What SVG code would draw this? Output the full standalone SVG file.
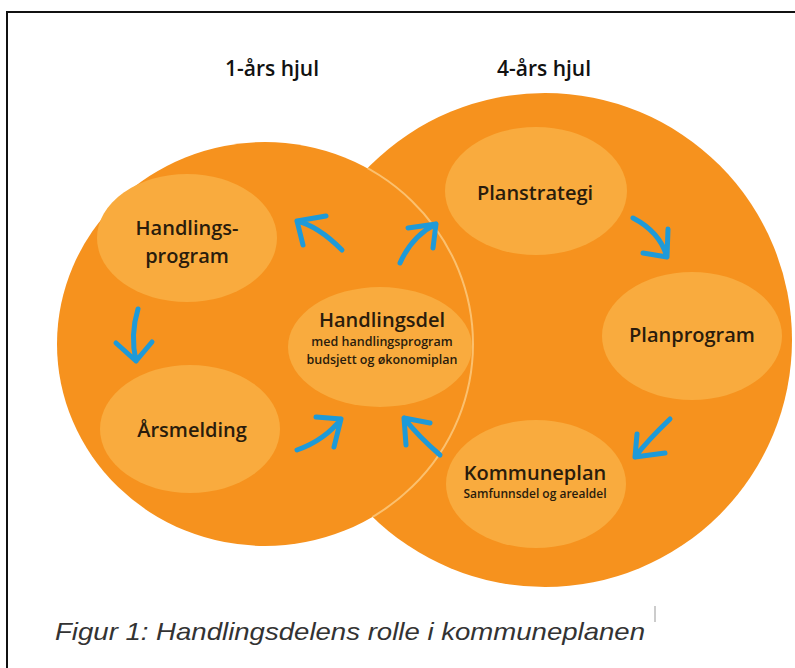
<svg xmlns="http://www.w3.org/2000/svg" width="795" height="668" viewBox="0 0 795 668">
<defs>
<style>
.bg{fill:#f6921e}
.el{fill:#f9ab3e}
.t{font-family:"Open Sans","Noto Sans",sans-serif;font-weight:600;fill:#2a1c0c;text-anchor:middle}
.big{font-size:20px}
.sm{font-size:12.5px;font-weight:600}
.title{font-family:"Open Sans","Noto Sans",sans-serif;font-weight:600;font-size:21px;fill:#111;text-anchor:middle}
.arr{fill:none;stroke:#1e9ad8;stroke-width:5;stroke-linecap:round;stroke-linejoin:round}
</style>
<clipPath id="c4"><circle cx="545" cy="340" r="247"/></clipPath>
</defs>
<rect width="795" height="668" fill="#fff"/>
<path d="M7,668 V12 H795" fill="none" stroke="#111" stroke-width="2"/>
<text class="title" x="272" y="76">1-års hjul</text>
<text class="title" x="544" y="76">4-års hjul</text>
<g id="wheel4"><circle class="bg" cx="545" cy="340" r="247"/></g>
<g id="wheel1"><ellipse class="bg" cx="265" cy="344" rx="208" ry="202"/>
<ellipse cx="265" cy="344" rx="208" ry="202" fill="none" stroke="#fbc06e" stroke-width="2" clip-path="url(#c4)"/></g>
<g id="handlingsprogram"><ellipse class="el" cx="187" cy="238" rx="90" ry="64"/>
<text class="t big" x="187" y="235">Handlings-</text><text class="t big" x="187" y="263">program</text></g>
<g id="arsmelding"><ellipse class="el" cx="190" cy="429" rx="90" ry="64"/>
<text class="t big" x="192" y="437">Årsmelding</text></g>
<g id="handlingsdel"><ellipse class="el" cx="380" cy="347" rx="92" ry="60"/>
<text class="t big" x="382" y="327">Handlingsdel</text>
<text class="t sm" x="382" y="346">med handlingsprogram</text>
<text class="t sm" x="382" y="364">budsjett og økonomiplan</text></g>
<g id="planstrategi"><ellipse class="el" cx="536" cy="191" rx="91" ry="64"/>
<text class="t big" x="535" y="200">Planstrategi</text></g>
<g id="planprogram"><ellipse class="el" cx="692" cy="336" rx="90" ry="64"/>
<text class="t big" x="692" y="342">Planprogram</text></g>
<g id="kommuneplan"><ellipse class="el" cx="536" cy="484" rx="90" ry="64"/>
<text class="t big" x="535" y="480">Kommuneplan</text>
<text class="t sm" x="535" y="498" style="font-size:12px">Samfunnsdel og arealdel</text></g>
<g id="connectors">
<path class="arr" d="M342,250 Q318,226 297,221 M326,216 L297,221 L303,245"/>
<path class="arr" d="M400,263 Q412,236 436,224 M408,228 L436,224 L433,248"/>
<path class="arr" d="M138,309 Q130,335 136,361 M116,343 L136,361 L152,342"/>
<path class="arr" d="M297,450 Q325,440 341,419 M316,417 L341,419 L334,447"/>
<path class="arr" d="M440,455 Q418,436 404,418 M430,423 L404,418 L406,445"/>
<path class="arr" d="M633,218 Q660,232 667,257 M668,229 L667,257 L643,253"/>
<path class="arr" d="M670,419 Q648,440 635,457 M637,434 L635,457 L665,453"/>
</g>
<text x="55" y="640" font-family="'Liberation Sans',Arial,sans-serif" font-style="italic" font-size="24" fill="#333" textLength="590" lengthAdjust="spacingAndGlyphs">Figur 1: Handlingsdelens rolle i kommuneplanen</text>
<line x1="655" y1="606" x2="655" y2="622" stroke="#999" stroke-width="1"/>
</svg>
